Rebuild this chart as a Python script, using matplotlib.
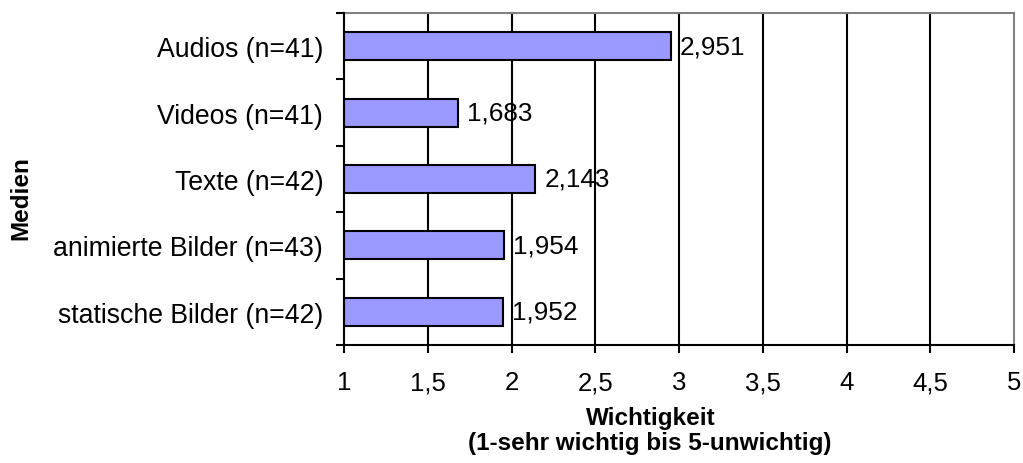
import matplotlib
matplotlib.use("Agg")
import matplotlib.pyplot as plt
import numpy as np

plt.rcParams['font.family'] = ['Liberation Sans', 'DejaVu Sans']

categories = ["statische Bilder (n=42)", "animierte Bilder (n=43)", "Texte (n=42)",
              "Videos (n=41)", "Audios (n=41)"]
values = [1.952, 1.954, 2.143, 1.683, 2.951]
xticks = [1, 1.5, 2, 2.5, 3, 3.5, 4, 4.5, 5]
xtick_labels = ["1", "1,5", "2", "2,5", "3", "3,5", "4", "4,5", "5"]

W, H = 1023, 464
fig = plt.figure(figsize=(W / 100, H / 100), dpi=100)
ax = fig.add_axes([344 / W, 1 - 346 / H, (1014 - 344) / W, (346 - 14) / H])

y = np.arange(len(categories))
widths = [v - 1 for v in values]
ax.barh(y, widths, left=1, height=0.42, color="#9999ff", edgecolor="black",
        linewidth=1.5, zorder=3)

for yi, v in zip(y, values):
    ax.annotate(f"{v:.3f}".replace(".", ","), (v, yi), xytext=(6.5, 0),
                textcoords="offset points", va="center", ha="left",
                fontsize=18.8, zorder=4)

ax.set_xlim(1, 5)
ax.set_ylim(-0.5, len(categories) - 0.5)

ax.set_xticks(xticks)
ax.set_xticklabels(xtick_labels, fontsize=18.5)
ax.set_yticks(y)
ax.set_yticklabels(categories, fontsize=19.2)
ax.set_yticks(np.arange(-0.5, len(categories)), minor=True)
ax.tick_params(axis="y", which="major", length=0, pad=15)
ax.tick_params(axis="y", which="minor", length=6, width=1.5, direction="out")
ax.tick_params(axis="x", which="major", length=6, width=1.5, direction="out", pad=12)

for xv in xticks[1:-1]:
    ax.axvline(xv, color="black", linewidth=1.5, zorder=1)

for side in ("top", "right"):
    ax.spines[side].set_color("#808080")
    ax.spines[side].set_linewidth(1.5)
for side in ("left", "bottom"):
    ax.spines[side].set_color("black")
    ax.spines[side].set_linewidth(1.5)
    ax.spines[side].set_zorder(5)

fig.text(651 / W, 1 - 419 / H, "Wichtigkeit", fontsize=17.5, fontweight="bold",
         ha="center", va="center")
fig.text(650 / W, 1 - 444 / H, "(1-sehr wichtig bis 5-unwichtig)", fontsize=17.5,
         fontweight="bold", ha="center", va="center")
fig.text(21 / W, 1 - 198 / H, "Medien", rotation=90, fontsize=17.5,
         fontweight="bold", ha="center", va="center")

fig.savefig("out.png", dpi=100)
